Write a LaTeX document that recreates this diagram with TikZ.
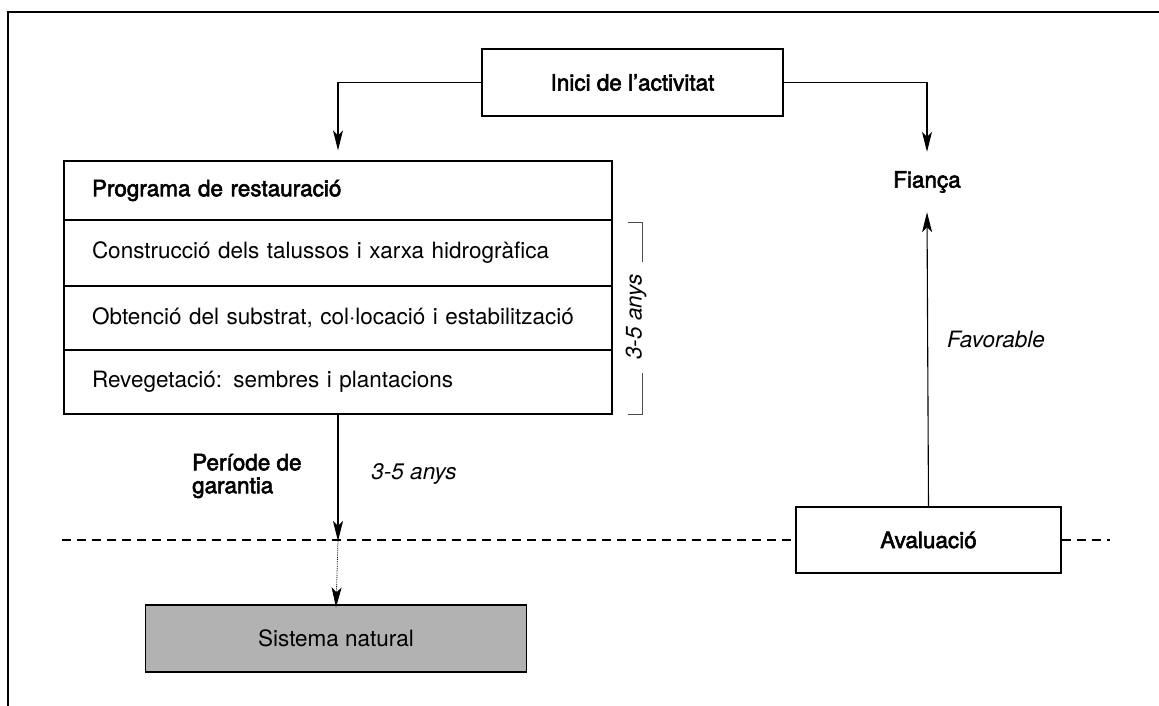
\documentclass[tikz,border=0pt]{standalone}
\usepackage{fontspec}
\setmainfont{TeX Gyre Heros}
\newfontfamily\medfont{TeX Gyre Heros}[FakeBold=2.5]
\usetikzlibrary{arrows.meta}
\begin{document}
\begin{tikzpicture}[x=1pt,y=-1pt,
  every node/.style={font=\fontsize{22.5}{25}\selectfont, inner sep=0pt},
  medtxt/.style={font=\fontsize{22.5}{25}\selectfont\medfont},
  ittxt/.style={font=\fontsize{22.5}{25}\selectfont\itshape},
  box/.style={draw, line width=1.3pt, rectangle},
  row/.style={box, minimum width=548pt, text width=492pt, inner xsep=28pt, align=left},
  arr/.style={line width=1.1pt, -{Stealth[length=20pt,width=10pt,inset=5pt]}},
  dashline/.style={line width=2.3pt, dash pattern=on 9pt off 6pt},
  dotline/.style={line width=0.8pt, densely dotted}]
\useasboundingbox (0,0) rectangle (1159,706);
% frame
\draw[line width=1.5pt] (8,706) -- (8,12) -- (1159,12);
% nodes
\node[box, medtxt, minimum width=301pt, minimum height=67pt] (inici) at (632.5,82.5) {Inici de l’activitat};
\node[row, medtxt, minimum height=59pt] (hdr) at (338,190.5) {Programa de restauració};
\node[row, minimum height=66pt] (r1) at (338,253) {Construcció dels talussos i xarxa hidrogràfica};
\node[row, minimum height=64pt] (r2) at (338,318) {Obtenció del substrat, col·locació i estabilització};
\node[row, minimum height=64pt] (r3) at (338,382) {Revegetació: sembres i plantacions};
\node[medtxt, minimum height=60pt] (fianca) at (927,182) {Fiança};
\node[box, medtxt, minimum width=265pt, minimum height=66pt] (aval) at (928.5,540) {Avaluació};
\node[box, minimum width=381pt, minimum height=67pt, fill=black!30] (sist) at (336,638.5) {Sistema natural};
\node[anchor=west, align=left, font=\fontsize{22.5}{23}\selectfont\medfont] (per) at (192,476) {Període de\\garantia};
\node[ittxt] (t35) at (414,474) {3-5 anys};
\node[ittxt, anchor=west] (fav) at (947,339) {Favorable};
\node[ittxt, rotate=90] (br) at (636,317) {3-5 anys};
\coordinate (cross) at (338,541);
\coordinate (dl) at (62,540);
\coordinate (dr) at (1110,540);
% connectors
\draw[arr, shorten >=10pt] (inici.west) -| (hdr.north);
\draw[arr] (inici.east) -| (fianca.north);
\draw[arr] (aval.north) -- (fianca.south);
\draw[arr] (r3.south) -- (cross);
\draw[arr, dotline] (cross) -- ([yshift=-3pt]sist.north);
\draw[dashline] (dl) -- (aval.west);
\draw[dashline] (aval.east) -- (dr);
% bracket
\draw[line width=1pt, gray!60!black] (628,222) -- (642,222) -- (642,262);
\draw[line width=1pt, gray!60!black] (642,373) -- (642,414) -- (628,414);
\end{tikzpicture}
\end{document}
